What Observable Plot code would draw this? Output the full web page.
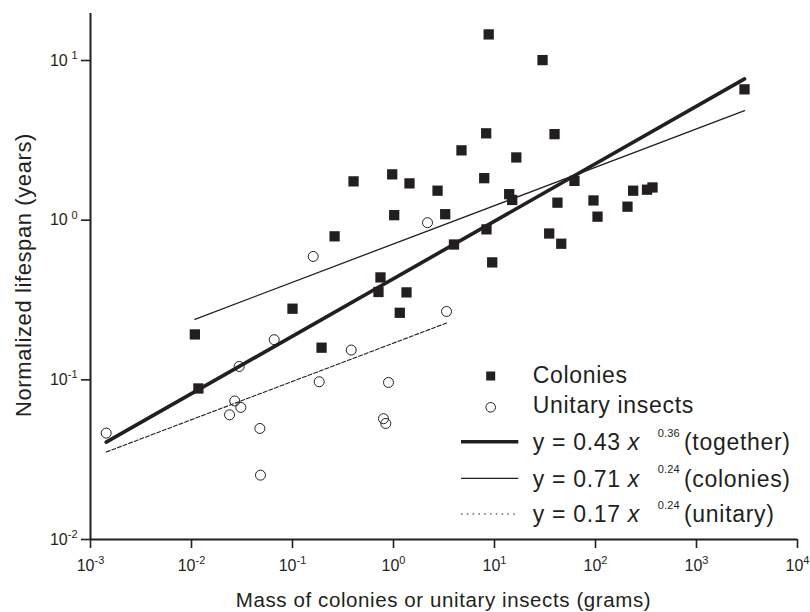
<!DOCTYPE html>
<html><head><meta charset="utf-8">
<script src="https://cdn.jsdelivr.net/npm/d3@7"></script>
<script src="https://cdn.jsdelivr.net/npm/@observablehq/plot@0.6"></script>
<style>
body{margin:0;background:#fff}
svg{font-family:"Liberation Sans",Arimo,Arial,sans-serif}
</style>
</head><body><div id="chart"></div>
<script>
// Colonies (filled squares): mass in grams, normalized lifespan in years
const colonyMass = [0.0108, 0.0117, 0.100, 0.194, 0.261, 0.402, 0.743, 0.710, 0.971, 1.016, 1.154, 1.345, 1.44, 2.73, 3.25, 3.97, 4.71, 7.91, 8.27, 8.33, 8.76, 9.49, 13.98, 14.97, 16.44, 29.9, 34.8, 39.3, 42.0, 45.8, 61.9, 95.5, 104.7, 207.4, 236, 323.6, 366.7, 2987];
const colonyLife = [0.1925, 0.0883, 0.279, 0.159, 0.792, 1.750, 0.438, 0.355, 1.936, 1.075, 0.263, 0.353, 1.70, 1.53, 1.09, 0.704, 2.737, 1.833, 3.499, 0.876, 14.57, 0.544, 1.455, 1.339, 2.471, 10.06, 0.825, 3.458, 1.287, 0.712, 1.763, 1.329, 1.052, 1.215, 1.53, 1.552, 1.603, 6.598];
// Unitary insects (open circles)
const unitaryMass = [0.00143, 0.0297, 0.0268, 0.0308, 0.0238, 0.0475, 0.0482, 0.0659, 0.1838, 0.1603, 0.3813, 0.892, 0.796, 0.839, 2.171, 3.349];
const unitaryLife = [0.0464, 0.1213, 0.0737, 0.0672, 0.0604, 0.0496, 0.0253, 0.1784, 0.0973, 0.593, 0.1537, 0.0963, 0.0571, 0.0533, 0.9645, 0.268];
// Fitted power laws: end points of each fitted segment
const fitNames = ["together", "colonies", "unitary"];
const fitMass = [[0.00143, 2990], [0.0108, 2990], [0.00143, 3.35]];
const fitLife = [[0.0407, 7.67], [0.2395, 4.85], [0.0353, 0.227]];
// Axis ticks
const xTicks = [1e-3, 1e-2, 1e-1, 1e0, 1e1, 1e2, 1e3, 1e4];
const yTicks = [1e-2, 1e-1, 1e0, 1e1];
// Legend text
const legendPoints = ["Colonies", "Unitary insects"];
const legendCoef = ["0.43", "0.71", "0.17"];
const legendExp = ["0.36", "0.24", "0.24"];
const legendTag = ["(together)", "(colonies)", "(unitary)"];
const xLabel = "Mass of colonies or unitary insects (grams)";
const yLabel = "Normalized lifespan (years)";

const ink = "#231f20";
const colonies = colonyMass.map((m, i) => ({mass: m, life: colonyLife[i]}));
const unitary = unitaryMass.map((m, i) => ({mass: m, life: unitaryLife[i]}));
const fits = fitNames.flatMap((name, i) => fitMass[i].map((m, j) => ({name, mass: m, life: fitLife[i][j]})));
const fitStyle = {
  together: {strokeWidth: 3.6},
  colonies: {strokeWidth: 1.3},
  unitary: {strokeWidth: 1.1, strokeDasharray: "4,2"}
};
const expFmt = d => "10^" + Math.round(Math.log10(d));

const plot = Plot.plot({
  width: 810, height: 612,
  marginLeft: 90, marginRight: 13, marginTop: 13, marginBottom: 73,
  style: {fontFamily: '"Liberation Sans",Arimo,Arial,sans-serif', color: ink, background: "#fff"},
  x: {type: "log", domain: [1e-3, 1e4]},
  y: {type: "log", domain: [1e-2, 19.7]},
  marks: [
    Plot.axisX({ticks: xTicks, tickSize: 9, tickPadding: 11, tickFormat: expFmt, label: null, strokeWidth: 1.6, stroke: ink, fill: ink}),
    Plot.axisY({ticks: yTicks, tickSize: 9, tickPadding: 4, tickFormat: expFmt, label: null, strokeWidth: 1.6, stroke: ink, fill: ink}),
    Plot.ruleY([1e-2], {stroke: ink, strokeWidth: 2}),
    Plot.ruleX([1e-3], {stroke: ink, strokeWidth: 2}),
    ...fitNames.map(n => Plot.line(fits.filter(d => d.name === n), {x: "mass", y: "life", stroke: ink, ...fitStyle[n]})),
    Plot.dot(colonies, {x: "mass", y: "life", symbol: "square", r: 5.8, fill: ink, stroke: null}),
    Plot.dot(unitary, {x: "mass", y: "life", r: 5, fill: "none", stroke: ink, strokeWidth: 1})
  ]
});

const svg = d3.select(plot);
["x", "y"].forEach(ax => {
  svg.selectAll(`g[aria-label="${ax}-axis tick label"]`).attr("font-size", 16).style("font-size", "16px");
  svg.selectAll(`g[aria-label="${ax}-axis tick label"] text`).each(function() {
    const parts = this.textContent.split("^");
    const t = d3.select(this);
    t.style("font-size", "16px").text(parts[0]);
    const sup = t.append("tspan").attr("dy", "-0.6em").style("font-size", "11px").text(parts[1]);
    if (ax === "y" && !parts[1].startsWith("-")) sup.attr("dx", 3.7);
  });
});

// axis titles
svg.append("text").attr("x", 443.5).attr("y", 606.5).attr("text-anchor", "middle")
  .attr("font-size", 20.5).attr("letter-spacing", 0.6).attr("fill", ink).text(xLabel);
svg.append("text").attr("transform", "translate(31,275) rotate(-90)").attr("text-anchor", "middle")
  .attr("font-size", 22).attr("letter-spacing", 0.6).attr("fill", ink).text(yLabel);

// legend
const lg = svg.append("g").attr("fill", ink).attr("font-size", 23).attr("letter-spacing", 0.7).attr("text-anchor", "start");
const textX = 532.7;
lg.append("rect").attr("x", 486.2).attr("y", 371.5).attr("width", 9).attr("height", 9).attr("fill", ink);
lg.append("text").attr("x", textX).attr("y", 383.3).text(legendPoints[0]);
lg.append("circle").attr("cx", 490.7).attr("cy", 407.3).attr("r", 4.8).attr("fill", "none").attr("stroke", ink).attr("stroke-width", 1);
lg.append("text").attr("x", textX).attr("y", 413.3).text(legendPoints[1]);
const rowLineY = [441.7, 478.3, 514];
const rowBase = [450, 486.7, 522.3];
fitNames.forEach((n, i) => {
  const st = fitStyle[n];
  lg.append("line").attr("x1", 461).attr("x2", 518.3).attr("y1", rowLineY[i]).attr("y2", rowLineY[i])
    .attr("stroke", ink).attr("stroke-width", st.strokeWidth)
    .attr("stroke-dasharray", n === "unitary" ? "1.6,4.2" : null);
  const t = lg.append("text").attr("x", textX).attr("y", rowBase[i]);
  t.append("tspan").text("y = " + legendCoef[i] + " ");
  t.append("tspan").attr("font-style", "italic").text("x");
  t.append("tspan").attr("x", 657.7).attr("dy", -13.4).attr("font-size", 11).attr("letter-spacing", 0.2).text(legendExp[i]);
  t.append("tspan").attr("x", 684).attr("dy", 13.4).text(legendTag[i]);
});

document.getElementById("chart").append(plot);
</script>
</body></html>
